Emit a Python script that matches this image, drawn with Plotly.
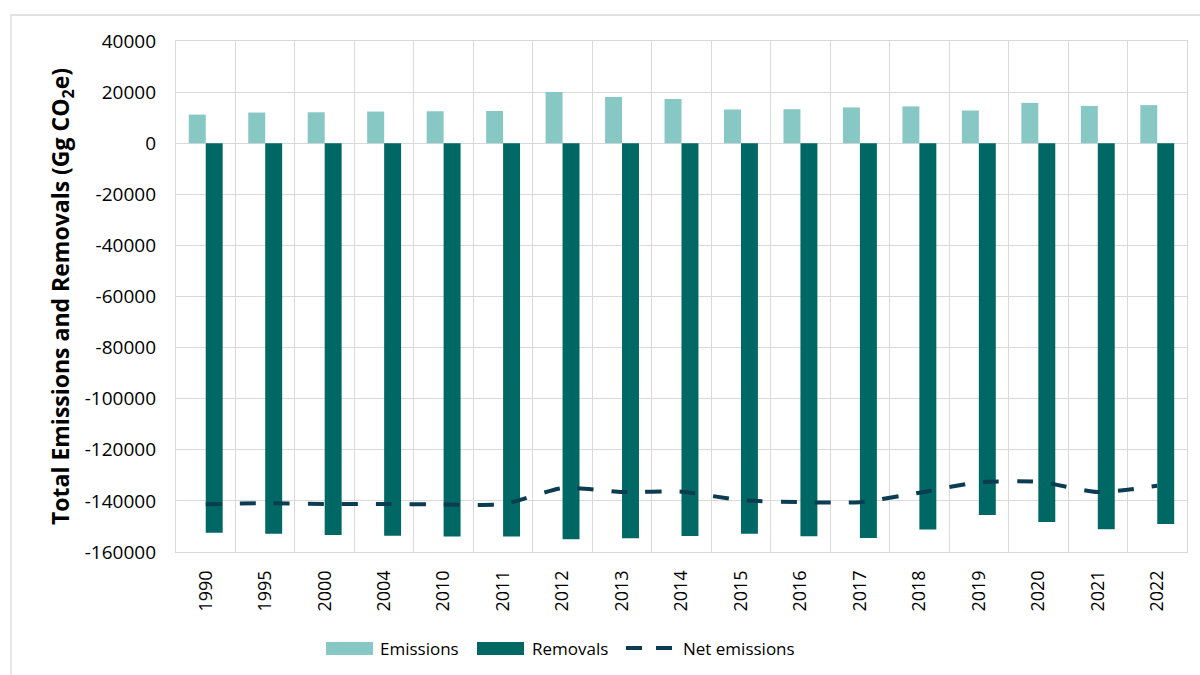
import plotly.graph_objects as go

# Inventory years shown on the category axis
years = ["1990", "1995", "2000", "2004", "2010", "2011", "2012", "2013", "2014",
         "2015", "2016", "2017", "2018", "2019", "2020", "2021", "2022"]

# Gg CO2e per year
emissions = [11200, 12000, 12100, 12400, 12500, 12600, 20000, 18100, 17300,
             13200, 13300, 14000, 14400, 12800, 15800, 14600, 14900]
removals = [-152500, -152900, -153300, -153600, -153900, -153900, -155000, -154600, -153700,
            -152900, -153800, -154500, -151200, -145500, -148300, -151100, -149000]
net_emissions = [-141300, -140900, -141200, -141200, -141400, -141300, -135000, -136500, -136400,
                 -139700, -140500, -140500, -136800, -132700, -132500, -136500, -134100]

y_tick_values = [40000, 20000, 0, -20000, -40000, -60000, -80000, -100000,
                 -120000, -140000, -160000]
y_tick_labels = ["40000", "20000", "0", "-20000", "-40000", "-60000", "-80000", "-100000",
                 "-120000", "-140000", "-160000"]

FONT = "Open Sans, Noto Sans, sans-serif"
GRID = "#d9d9d9"
C_EMIS = "#87c7c4"
C_REM = "#006864"
C_NET = "#0b3c52"

# plot area geometry in pixels (used for the frame and legend placement)
W, H = 1200, 675
L, R, T, B = 176, 13, 41, 123
PW, PH = W - L - R, H - T - B


def px_x(px):
    return (px - L) / PW


def px_y(py):
    return (H - B - py) / PH


fig = go.Figure()
fig.add_trace(go.Bar(x=years, y=emissions, name="Emissions",
                     marker=dict(color=C_EMIS, line=dict(width=0))))
fig.add_trace(go.Bar(x=years, y=removals, name="Removals",
                     marker=dict(color=C_REM, line=dict(width=0))))
fig.add_trace(go.Scatter(x=years, y=net_emissions, name="Net emissions", mode="lines",
                         line=dict(color=C_NET, width=4, dash="16px,18px",
                                   shape="spline", smoothing=0.6)))

fig.update_layout(
    width=W, height=H,
    margin=dict(l=L, r=R, t=T, b=B),
    paper_bgcolor="white", plot_bgcolor="white",
    font=dict(family=FONT, size=18, color="#000000"),
    barmode="group", bargap=0.43, bargroupgap=0,
    showlegend=False,
    xaxis=dict(type="category", tickson="boundaries", ticks="", tickangle=-90,
               showgrid=True, gridcolor=GRID, gridwidth=1.3,
               showline=True, linecolor=GRID, linewidth=1.3, mirror=True,
               ticklabelstandoff=10, tickfont=dict(size=18)),
    yaxis=dict(range=[-160000, 40000], tickvals=y_tick_values, ticktext=y_tick_labels,
               showgrid=True, gridcolor=GRID, gridwidth=1.3,
               zeroline=True, zerolinecolor=GRID, zerolinewidth=1.3,
               showline=True, linecolor=GRID, linewidth=1.3, mirror=True,
               ticks="", ticklabelstandoff=15, tickfont=dict(size=19),
               title=dict(text="<b>Total Emissions and Removals (Gg CO<sub>2</sub>e)</b>",
                          font=dict(size=23), standoff=8)),
)

# Light frame around the chart area
fig.add_shape(type="rect", xref="paper", yref="paper",
              x0=px_x(11), x1=px_x(1215), y0=px_y(690), y1=px_y(15),
              line=dict(color=GRID, width=1.3), fillcolor="rgba(0,0,0,0)", layer="below")

# Legend row below the axis
LEG_Y = 648
fig.add_shape(type="rect", xref="paper", yref="paper",
              x0=px_x(326), x1=px_x(373), y0=px_y(655), y1=px_y(642),
              line=dict(width=0), fillcolor=C_EMIS)
fig.add_shape(type="rect", xref="paper", yref="paper",
              x0=px_x(477), x1=px_x(524), y0=px_y(655), y1=px_y(642),
              line=dict(width=0), fillcolor=C_REM)
for x0, x1 in [(626, 642), (656, 672)]:
    fig.add_shape(type="line", xref="paper", yref="paper",
                  x0=px_x(x0), x1=px_x(x1), y0=px_y(LEG_Y), y1=px_y(LEG_Y),
                  line=dict(color=C_NET, width=4))
for label, x in [("Emissions", 378), ("Removals", 530), ("Net emissions", 681)]:
    fig.add_annotation(text=label, xref="paper", yref="paper",
                       x=px_x(x), y=px_y(LEG_Y), xanchor="left", yanchor="middle",
                       showarrow=False, font=dict(size=17, color="#000000"))

fig.write_html("out.html")
